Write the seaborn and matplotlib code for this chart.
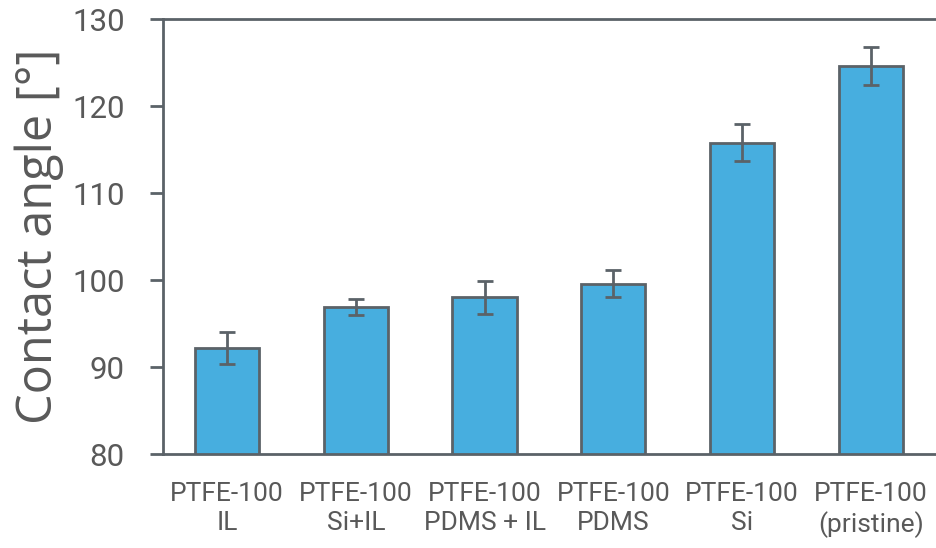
import matplotlib
matplotlib.use("Agg")
import matplotlib.pyplot as plt
import seaborn as sns
import pandas as pd

categories = ["PTFE-100\nIL", "PTFE-100\nSi+IL", "PTFE-100\nPDMS + IL",
              "PTFE-100\nPDMS", "PTFE-100\nSi", "PTFE-100\n(pristine)"]
values = [92.2, 96.9, 98.0, 99.6, 115.8, 124.6]
errors = [1.8, 0.9, 1.9, 1.55, 2.15, 2.15]
yticks = [80, 90, 100, 110, 120, 130]

sns.set_theme(style="white")
plt.rcParams["font.family"] = ["Roboto", "DejaVu Sans"]

grey = "#595959"
edge = "#5b6268"
fill = "#47AEDF"

df = pd.DataFrame({"cat": categories, "val": values})
fig = plt.figure(figsize=(9.36, 5.48), dpi=100)
ax = fig.add_axes([0.174, 0.1715, 0.825, 0.7935])
sns.barplot(data=df, x="cat", y="val", color=fill, width=0.5,
            edgecolor=edge, linewidth=2, ax=ax, saturation=1)
ax.errorbar(range(len(values)), values, yerr=errors, fmt="none",
            ecolor=edge, elinewidth=2, capsize=6, capthick=2)
ax.set_ylim(80, 130)
ax.set_yticks(yticks)
ax.set_xlim(-0.5, len(values) - 0.5)
ax.set_xlabel("")
ax.set_ylabel("Contact angle [°]", fontsize=35, color=grey, labelpad=6,
              family=["Open Sans", "DejaVu Sans"])
ax.tick_params(axis="y", which="both", left=True, length=9.5, width=2,
               color=edge, labelsize=22.5, labelcolor=grey, pad=18, direction="out")
ax.tick_params(axis="x", bottom=False, labelsize=19, labelcolor=grey, pad=14)
for lab in ax.get_xticklabels():
    lab.set_linespacing(1.25)
for s in ["left", "top", "bottom"]:
    ax.spines[s].set_visible(True)
    ax.spines[s].set_color(edge)
    ax.spines[s].set_linewidth(2)
ax.spines["right"].set_visible(False)
fig.savefig("out.png", dpi=100)
